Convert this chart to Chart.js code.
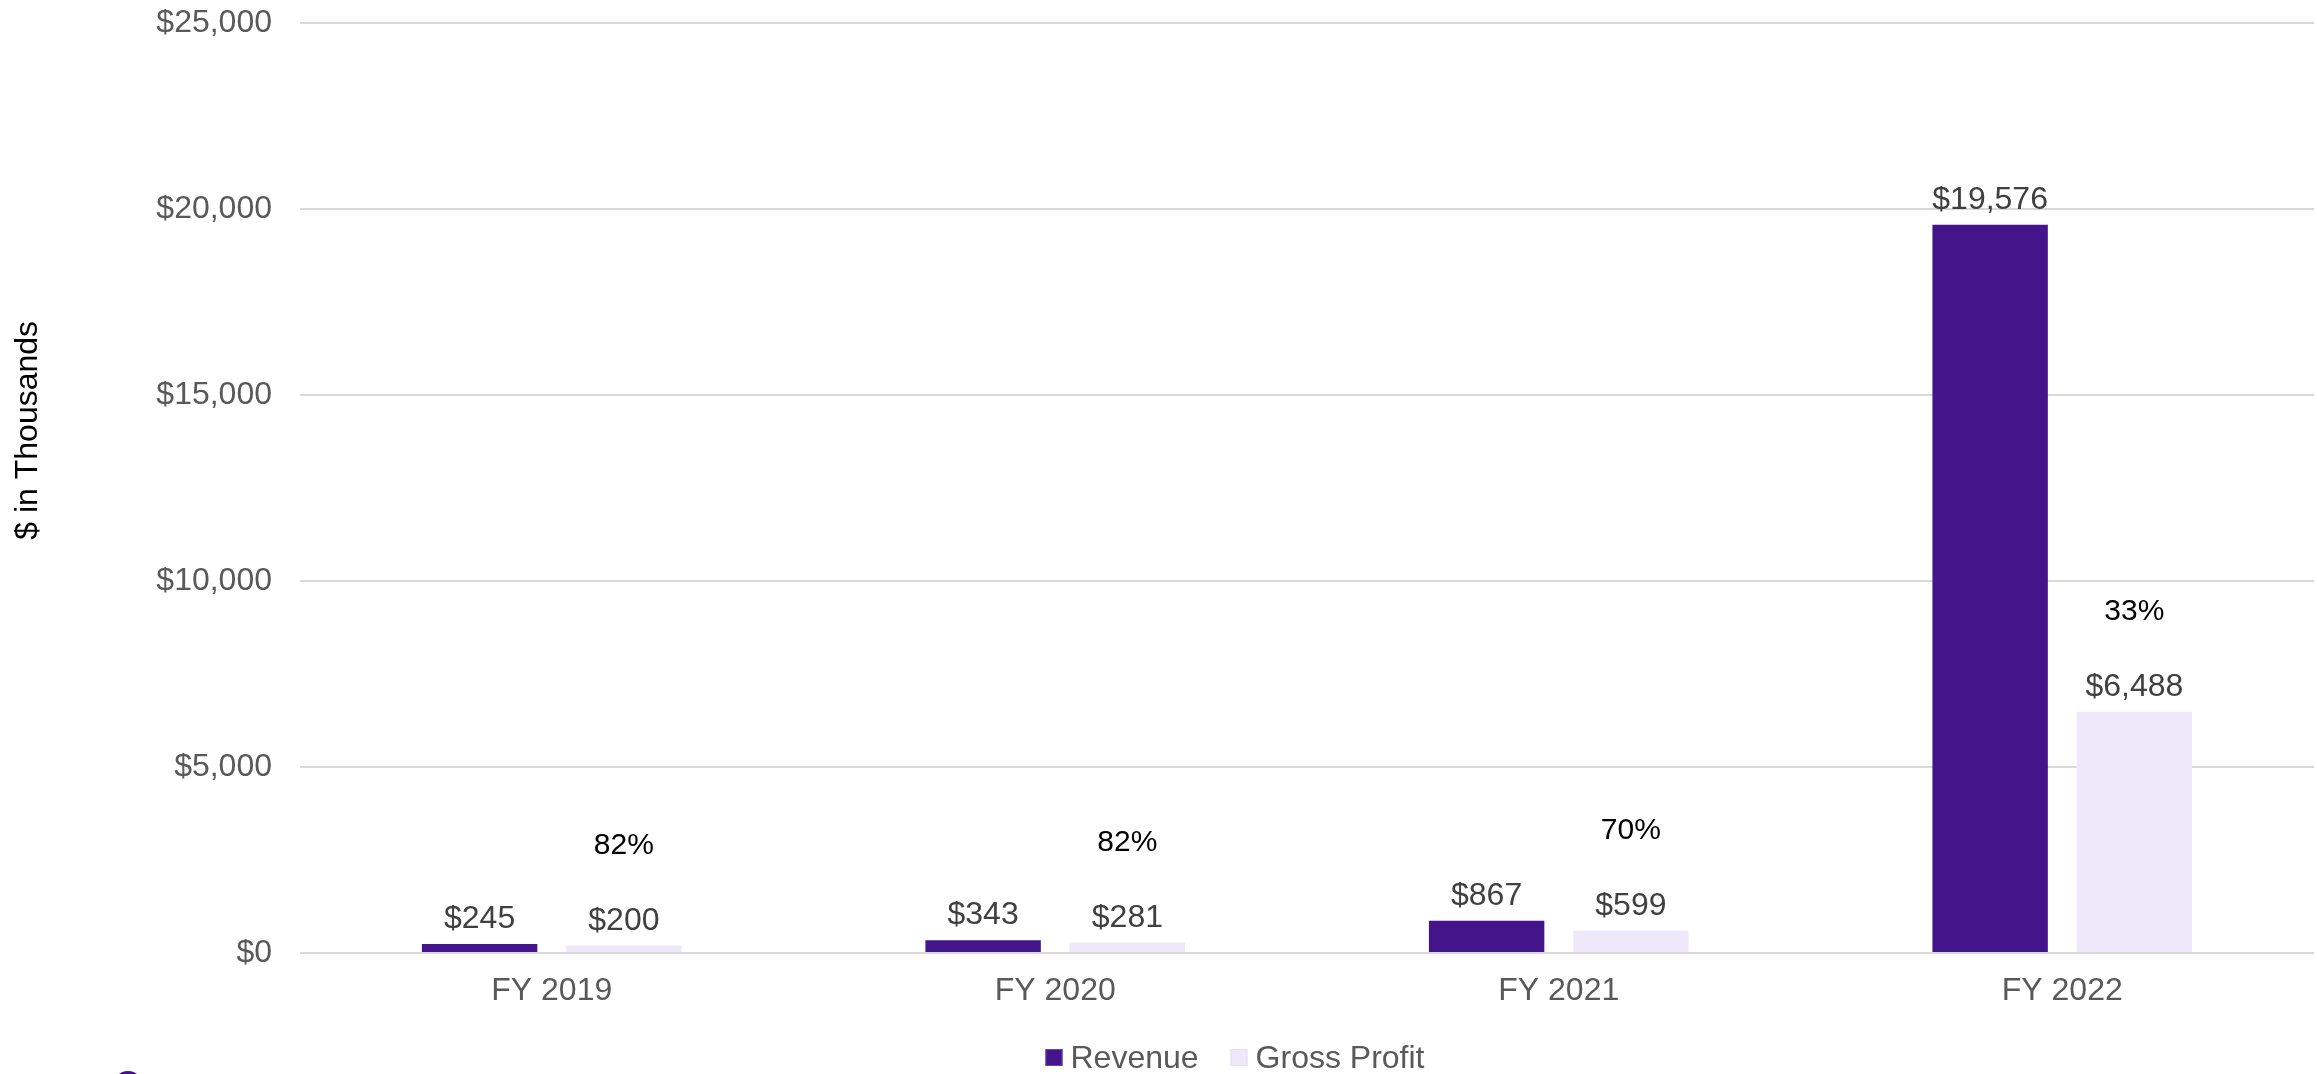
<!DOCTYPE html>
<html>
<head>
<meta charset="utf-8">
<title>Revenue and Gross Profit</title>
<script src="https://cdn.jsdelivr.net/npm/chart.js@4.4.0/dist/chart.umd.min.js"></script>
<style>
    body {
        margin: 0;
        background: #ffffff;
        overflow: hidden;
    }

    #wrap {
        position: relative;
        width: 2317px;
        height: 1074px;
    }

    #legend {
        position: absolute;
        top: 1039px;
        left: 1235px;
        transform: translateX(-50%);
        display: flex;
        align-items: center;
        font-family: 'Liberation Sans', Arial, sans-serif;
        font-size: 32px;
        color: #595959;
        white-space: nowrap;
    }

    #legend .item {
        display: flex;
        align-items: center;
        margin: 0 16px;
    }

    #legend .box {
        width: 17px;
        height: 17px;
        margin-right: 8px;
        box-sizing: border-box;
    }

    #dot {
        position: absolute;
        left: 113px;
        top: 1071px;
        width: 30px;
        height: 30px;
        border-radius: 50%;
        background: #44148a;
    }
</style>
</head>
<body>
<div id="wrap">
    <canvas id="myChart" width="2317" height="1074"></canvas>
    <div id="legend"></div>
    <div id="dot"></div>
</div>
<script>
'use strict';

// fiscal years and values ($ in thousands)
let years = ['FY 2019', 'FY 2020', 'FY 2021', 'FY 2022'];
let revenue = [245, 343, 867, 19576];
let grossProfit = [200, 281, 599, 6488];
let grossMargin = [82, 82, 70, 33];
let yTicks = [0, 5000, 10000, 15000, 20000, 25000];

let fontFamily = "'Liberation Sans', Arial, sans-serif";

function money(value) {
    return '$' + value.toLocaleString('en-US');
}

// value labels over every bar, margin % over the gross profit bars
let barLabels = {
    id: 'barLabels',
    afterDatasetsDraw(chart) {
        let ctx = chart.ctx;
        ctx.save();
        ctx.textAlign = 'center';
        chart.data.datasets.forEach(function (dataset, d) {
            let meta = chart.getDatasetMeta(d);
            meta.data.forEach(function (bar, i) {
                ctx.font = '32px ' + fontFamily;
                ctx.fillStyle = '#404040';
                ctx.textBaseline = 'alphabetic';
                ctx.fillText(money(dataset.data[i]), bar.x, bar.y - 16);
                if (d === 1) {
                    ctx.font = '30px ' + fontFamily;
                    ctx.fillStyle = '#000000';
                    ctx.textBaseline = 'middle';
                    ctx.fillText(grossMargin[i] + '%', bar.x, bar.y - 100);
                }
            });
        });
        ctx.restore();
    }
};

// rotated axis title, sits a bit above the middle of the plot
let yTitle = {
    id: 'yTitle',
    afterDraw(chart) {
        let ctx = chart.ctx;
        let area = chart.chartArea;
        ctx.save();
        ctx.translate(28, area.top + (area.bottom - area.top) * 0.438);
        ctx.rotate(-Math.PI / 2);
        ctx.font = '32px ' + fontFamily;
        ctx.fillStyle = '#000000';
        ctx.textAlign = 'center';
        ctx.textBaseline = 'middle';
        ctx.fillText('$ in Thousands', 0, 0);
        ctx.restore();
    }
};

// html legend built from the datasets
let htmlLegend = {
    id: 'htmlLegend',
    afterUpdate(chart) {
        let legend = document.getElementById('legend');
        legend.innerHTML = '';
        chart.data.datasets.forEach(function (dataset) {
            let item = document.createElement('div');
            item.className = 'item';
            let box = document.createElement('span');
            box.className = 'box';
            box.style.background = dataset.backgroundColor;
            box.style.border = '1px solid ' + dataset.legendBorder;
            let text = document.createElement('span');
            text.textContent = dataset.label;
            item.appendChild(box);
            item.appendChild(text);
            legend.appendChild(item);
        });
    }
};

let ctx = document.getElementById('myChart').getContext('2d');
let chart = new Chart(ctx, {
    type: 'bar',
    data: {
        labels: years,
        datasets: [{
            label: 'Revenue',
            data: revenue,
            backgroundColor: '#44148a',
            legendBorder: '#6a45b0'
        },
        {
            label: 'Gross Profit',
            data: grossProfit,
            backgroundColor: '#efe8fa',
            legendBorder: '#e6ddf5'
        }]
    },
    options: {
        responsive: false,
        animation: false,
        categoryPercentage: 0.573,
        barPercentage: 0.8,
        layout: {
            padding: { top: 23, right: 3, left: 0, bottom: 0 }
        },
        plugins: {
            legend: { display: false },
            tooltip: { enabled: false }
        },
        scales: {
            x: {
                grid: { display: false, drawTicks: false },
                border: { display: false },
                ticks: {
                    padding: 19,
                    color: '#595959',
                    font: { family: fontFamily, size: 32 }
                },
                afterFit: function (scale) {
                    scale.height = 121;
                    scale.paddingLeft = 0;
                    scale.paddingRight = 0;
                }
            },
            y: {
                min: 0,
                max: 25000,
                afterBuildTicks: function (scale) {
                    scale.ticks = yTicks.map(function (v) { return { value: v }; });
                },
                grid: { color: '#d9d9d9', lineWidth: 2, drawTicks: false },
                border: { display: false },
                ticks: {
                    padding: 28,
                    color: '#595959',
                    font: { family: fontFamily, size: 32 },
                    callback: function (value) {
                        return money(value);
                    }
                },
                afterFit: function (scale) {
                    // plot area starts at a fixed offset, labels may overhang
                    scale.width = 300;
                    scale.paddingTop = 0;
                    scale.paddingBottom = 0;
                }
            }
        }
    },
    plugins: [barLabels, yTitle, htmlLegend]
});
</script>
</body>
</html>
